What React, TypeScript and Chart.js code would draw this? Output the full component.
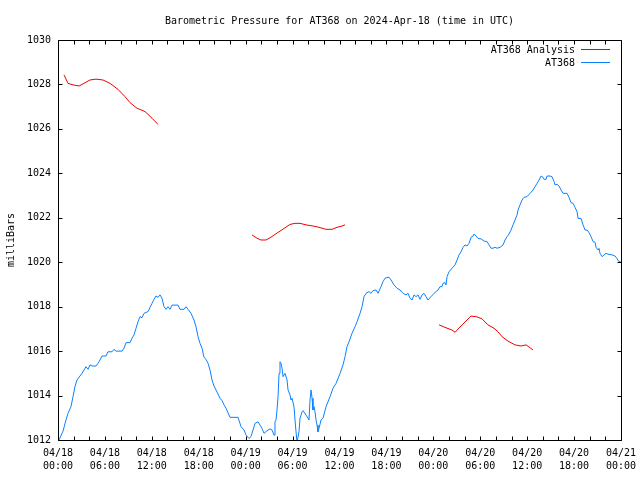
import React, { useEffect, useRef } from "react";
import { Chart, registerables } from "chart.js";

Chart.register(...registerables);

const chartTitle = "Barometric Pressure for AT368 on 2024-Apr-18 (time in UTC)";
const yAxisLabel = "milliBars";
const seriesNames = ["AT368 Analysis", "AT368"];
const seriesColors = ["#ee0000", "#0a80ff"];

// x axis: hours since 04/18 00:00 UTC
const xMin = 0;
const xMax = 72;
const xMajorStep = 6;
const xMinorStep = 2;
const xTickDates = ["04/18", "04/18", "04/18", "04/18", "04/19", "04/19", "04/19", "04/19", "04/20", "04/20", "04/20", "04/20", "04/21"];
const xTickTimes = ["00:00", "06:00", "12:00", "18:00", "00:00", "06:00", "12:00", "18:00", "00:00", "06:00", "12:00", "18:00", "00:00"];

const yMin = 1012;
const yMax = 1030;
const yStep = 2;

// Analysis (null marks gaps between runs)
const analysisHours = [
  0.77, 1.28, 1.92, 2.69, 3.33, 4.09, 4.86, 5.76, 6.65, 7.67, 8.57, 9.21, 10.1, 11.13, 12.02, 12.79,
  18,
  24.81, 25.45, 25.96, 26.6, 27.11, 27.75, 28.39, 29.03, 29.67, 30.31, 30.95, 31.72, 32.61, 33.38, 34.28, 35.04, 35.68, 36.32, 36.71,
  42,
  48.73, 49.62, 50.39, 50.78, 51.54, 52.31, 52.82, 53.59, 54.23, 54.99, 55.76, 56.27, 56.79, 57.55, 58.45, 59.22, 59.86, 60.37, 60.75,
];
const analysisValues = [
  1028.43, 1028.05, 1027.98, 1027.93, 1028.05, 1028.2, 1028.24, 1028.2, 1028.05, 1027.78, 1027.45, 1027.18, 1026.93, 1026.78, 1026.48, 1026.2,
  null,
  1021.23, 1021.08, 1021.0, 1021.0, 1021.1, 1021.25, 1021.4, 1021.55, 1021.7, 1021.75, 1021.75, 1021.68, 1021.63, 1021.57, 1021.48, 1021.48, 1021.57, 1021.63, 1021.68,
  null,
  1017.18, 1017.05, 1016.95, 1016.85, 1017.13, 1017.4, 1017.58, 1017.54, 1017.45, 1017.18, 1017.03, 1016.87, 1016.65, 1016.45, 1016.28, 1016.23, 1016.28, 1016.15, 1016.05,
];

// Observations
const obsHours = [
  0.0, 0.64, 1.02, 1.28, 1.66, 1.92, 2.17, 2.43, 2.81, 3.07, 3.33, 3.58, 3.84, 4.09, 4.35, 4.86, 5.12, 5.37, 5.63, 6.14,
  6.39, 6.91, 7.16, 7.42, 8.19, 8.44, 8.7, 9.21, 9.46, 9.72, 9.98, 10.23, 10.49, 10.74, 11.0, 11.51, 11.77, 12.02, 12.28, 12.53,
  12.79, 13.05, 13.3, 13.56, 13.81, 14.07, 14.32, 14.58, 15.35, 15.6, 16.11, 16.37, 16.63, 17.01, 17.39, 17.65, 17.91, 18.16, 18.42, 18.67,
  18.93, 19.19, 19.44, 19.7, 19.95, 20.21, 20.46, 20.72, 20.98, 21.23, 21.49, 22.0, 23.02, 23.41, 23.79, 24.05, 24.43, 24.68, 24.94, 25.2,
  25.58, 25.84, 26.09, 26.35, 26.73, 27.11, 27.37, 27.63, 27.75, 27.88, 28.01, 28.14, 28.27, 28.39, 28.52, 28.65, 28.78, 29.03, 29.29, 29.42,
  29.67, 29.8, 29.93, 30.18, 30.31, 30.44, 30.57, 30.82, 30.95, 31.21, 31.34, 31.72, 31.98, 32.1, 32.23, 32.36, 32.49, 32.61, 32.74, 32.87,
  33.0, 33.13, 33.25, 33.38, 33.64, 33.89, 34.28, 34.79, 35.17, 35.56, 36.07, 36.45, 36.71, 36.96, 37.22, 37.6, 37.99, 38.24, 38.63, 38.88,
  39.14, 39.39, 39.78, 40.03, 40.29, 40.67, 40.93, 41.31, 41.57, 41.82, 42.33, 42.59, 42.97, 43.36, 43.74, 44.13, 44.51, 44.77, 45.02, 45.28,
  45.53, 45.79, 46.04, 46.3, 46.56, 46.81, 47.07, 47.32, 47.7, 48.09, 48.35, 48.6, 48.86, 49.11, 49.24, 49.5, 49.62, 49.75, 50.01, 50.39,
  50.78, 51.03, 51.29, 51.54, 51.8, 52.05, 52.31, 52.57, 52.82, 53.08, 53.21, 53.46, 53.72, 54.1, 54.49, 54.87, 55.12, 55.38, 55.64, 55.89,
  56.15, 56.53, 56.92, 57.17, 57.43, 57.68, 57.94, 58.19, 58.45, 58.71, 58.83, 59.09, 59.34, 59.6, 59.98, 60.37, 60.75, 61.01, 61.26, 61.52,
  61.78, 62.03, 62.16, 62.42, 62.54, 62.93, 63.18, 63.44, 63.56, 63.82, 64.08, 64.33, 64.59, 65.1, 65.35, 65.61, 65.87, 66.12, 66.38, 66.51,
  66.89, 67.15, 67.4, 67.66, 67.91, 68.17, 68.43, 68.68, 68.81, 69.07, 69.19, 69.32, 69.58, 69.83, 70.09, 70.35, 70.86, 71.24, 71.49, 71.62,
  72.0,
];
const obsValues = [
  1011.9, 1012.4, 1012.9, 1013.2, 1013.5, 1013.95, 1014.4, 1014.7, 1014.88, 1015.0, 1015.15, 1015.3, 1015.18, 1015.38, 1015.33, 1015.33, 1015.45, 1015.6, 1015.78, 1015.78,
  1015.97, 1015.97, 1016.08, 1016.0, 1016.0, 1016.13, 1016.38, 1016.38, 1016.58, 1016.73, 1017.03, 1017.32, 1017.55, 1017.5, 1017.7, 1017.78, 1017.97, 1018.15, 1018.33, 1018.48,
  1018.42, 1018.53, 1018.38, 1018.0, 1017.88, 1018.0, 1017.88, 1018.07, 1018.07, 1017.88, 1017.88, 1018.0, 1017.88, 1017.7, 1017.4, 1017.1, 1016.65, 1016.35, 1016.13, 1015.72,
  1015.63, 1015.45, 1015.15, 1014.7, 1014.43, 1014.25, 1014.07, 1013.88, 1013.77, 1013.58, 1013.43, 1013.02, 1013.02, 1012.6, 1012.45, 1012.22, 1012.07, 1012.15, 1012.45, 1012.75,
  1012.82, 1012.67, 1012.52, 1012.3, 1012.42, 1012.5, 1012.45, 1012.22, 1012.82, 1012.9, 1013.35, 1013.95, 1015.0, 1015.52, 1015.45, 1015.23, 1014.85, 1015.0, 1014.7, 1014.25,
  1014.03, 1013.8, 1013.88, 1013.5, 1012.9, 1012.37, 1011.9, 1012.37, 1012.98, 1013.27, 1013.32, 1013.12, 1012.98, 1012.9, 1013.8, 1014.25, 1013.88, 1013.35, 1013.5, 1013.27,
  1012.9, 1012.67, 1012.37, 1012.52, 1012.9, 1012.98, 1013.5, 1013.95, 1014.33, 1014.55, 1015.0, 1015.38, 1015.75, 1016.2, 1016.42, 1016.8, 1017.1, 1017.32, 1017.7, 1018.0,
  1018.45, 1018.6, 1018.68, 1018.6, 1018.72, 1018.75, 1018.6, 1018.9, 1019.13, 1019.28, 1019.33, 1019.2, 1018.98, 1018.83, 1018.75, 1018.6, 1018.53, 1018.6, 1018.38, 1018.3,
  1018.53, 1018.45, 1018.53, 1018.33, 1018.53, 1018.6, 1018.45, 1018.3, 1018.45, 1018.6, 1018.68, 1018.75, 1018.9, 1018.9, 1019.05, 1019.08, 1018.98, 1019.35, 1019.57, 1019.73,
  1019.88, 1020.1, 1020.33, 1020.47, 1020.67, 1020.78, 1020.73, 1020.85, 1021.12, 1021.18, 1021.27, 1021.18, 1021.07, 1021.05, 1020.95, 1020.93, 1020.78, 1020.63, 1020.63, 1020.67,
  1020.63, 1020.67, 1020.78, 1021.0, 1021.15, 1021.27, 1021.45, 1021.68, 1021.9, 1022.13, 1022.35, 1022.58, 1022.8, 1022.92, 1022.95, 1023.1, 1023.25, 1023.4, 1023.55, 1023.7,
  1023.88, 1023.82, 1023.73, 1023.73, 1023.88, 1023.88, 1023.85, 1023.63, 1023.48, 1023.51, 1023.43, 1023.25, 1023.1, 1023.1, 1022.92, 1022.68, 1022.65, 1022.47, 1022.27, 1021.97,
  1021.97, 1021.68, 1021.45, 1021.45, 1021.33, 1021.15, 1020.93, 1020.9, 1020.67, 1020.55, 1020.62, 1020.4, 1020.25, 1020.33, 1020.4, 1020.36, 1020.33, 1020.28, 1020.17, 1020.07,
  1020.0,
];

const FONT = "DejaVu Sans Mono";

const framePlugin = {
  id: "gnuFrame",
  afterDatasetsDraw(chart: any) {
    const { ctx, chartArea, scales } = chart;
    const xs = scales.x;
    const ys = scales.y;
    const L = Math.round(chartArea.left) + 0.5;
    const R = Math.round(chartArea.right) + 0.5;
    const T = Math.round(chartArea.top) + 0.5;
    const B = Math.round(chartArea.bottom) + 0.5;
    ctx.save();
    ctx.strokeStyle = "#000";
    ctx.lineWidth = 1;
    ctx.beginPath();
    ctx.rect(L, T, R - L, B - T);
    ctx.stroke();
    const tl = 4;
    ctx.beginPath();
    for (let v = xMin; v <= xMax; v += xMinorStep) {
      const px = Math.round(xs.getPixelForValue(v)) + 0.5;
      ctx.moveTo(px, B);
      ctx.lineTo(px, B - tl);
      ctx.moveTo(px, T);
      ctx.lineTo(px, T + tl);
    }
    for (let v = yMin; v <= yMax; v += yStep) {
      const py = Math.round(ys.getPixelForValue(v)) + 0.5;
      ctx.moveTo(L, py);
      ctx.lineTo(L + tl, py);
      ctx.moveTo(R, py);
      ctx.lineTo(R - tl, py);
    }
    ctx.stroke();

    // title
    ctx.fillStyle = "#000";
    ctx.font = `10px "${FONT}"`;
    ctx.textAlign = "center";
    ctx.textBaseline = "middle";
    ctx.fillText(chartTitle, (chartArea.left + chartArea.right) / 2, 21);

    // y label
    ctx.save();
    ctx.translate(11, (chartArea.top + chartArea.bottom) / 2);
    ctx.rotate(-Math.PI / 2);
    ctx.fillText(yAxisLabel, 0, 0);
    ctx.restore();

    // legend
    ctx.textAlign = "right";
    const rows = [49.5, 62.5];
    seriesNames.forEach((name, i) => {
      ctx.fillStyle = "#000";
      ctx.fillText(name, 575, rows[i] + 1);
      ctx.strokeStyle = seriesColors[i];
      ctx.beginPath();
      ctx.moveTo(581, rows[i]);
      ctx.lineTo(610, rows[i]);
      ctx.stroke();
    });
    ctx.restore();
  },
};

export default function App() {
  const ref = useRef<HTMLCanvasElement | null>(null);
  useEffect(() => {
    document.body.style.margin = "0";
    const canvas = ref.current;
    if (!canvas) return;
    const analysisData = analysisHours.map((h, i) => ({ x: h, y: analysisValues[i] }));
    const obsData = obsHours.map((h, i) => ({ x: h, y: obsValues[i] }));
    const chart = new Chart(canvas, {
      type: "line",
      data: {
        datasets: [
          {
            label: seriesNames[0],
            data: analysisData as any,
            borderColor: seriesColors[0],
            borderWidth: 1,
            pointRadius: 0,
            spanGaps: false,
            tension: 0,
          },
          {
            label: seriesNames[1],
            data: obsData as any,
            borderColor: seriesColors[1],
            borderWidth: 1,
            pointRadius: 0,
            tension: 0,
          },
        ],
      },
      options: {
        responsive: false,
        animation: false,
        parsing: false as any,
        layout: { padding: { left: 0, right: 19, top: 40, bottom: 0 } },
        plugins: {
          legend: { display: false },
          title: { display: false },
          tooltip: { enabled: false },
        },
        scales: {
          x: {
            type: "linear",
            min: xMin,
            max: xMax,
            grid: { display: false, drawTicks: false },
            border: { display: false },
            afterFit: (s: any) => {
              s.height = 40;
              s.paddingLeft = 0;
              s.paddingRight = 0;
            },
            ticks: {
              stepSize: xMajorStep,
              autoSkip: false,
              maxRotation: 0,
              padding: 7,
              color: "#000",
              font: { family: FONT, size: 10, lineHeight: 1.3 },
              callback: (v: any) => {
                const i = Math.round(Number(v) / xMajorStep);
                return [xTickDates[i], xTickTimes[i]];
              },
            },
          },
          y: {
            type: "linear",
            min: yMin,
            max: yMax,
            grid: { display: false, drawTicks: false },
            border: { display: false },
            afterFit: (s: any) => {
              s.width = 58;
              s.paddingTop = 0;
              s.paddingBottom = 0;
            },
            ticks: {
              stepSize: yStep,
              padding: 7,
              color: "#000",
              font: { family: FONT, size: 10 },
              callback: (v: any) => String(v),
            },
          },
        },
      },
      plugins: [framePlugin],
    });
    return () => chart.destroy();
  }, []);
  return <canvas ref={ref} width={640} height={480} style={{ display: "block" }} />;
}
